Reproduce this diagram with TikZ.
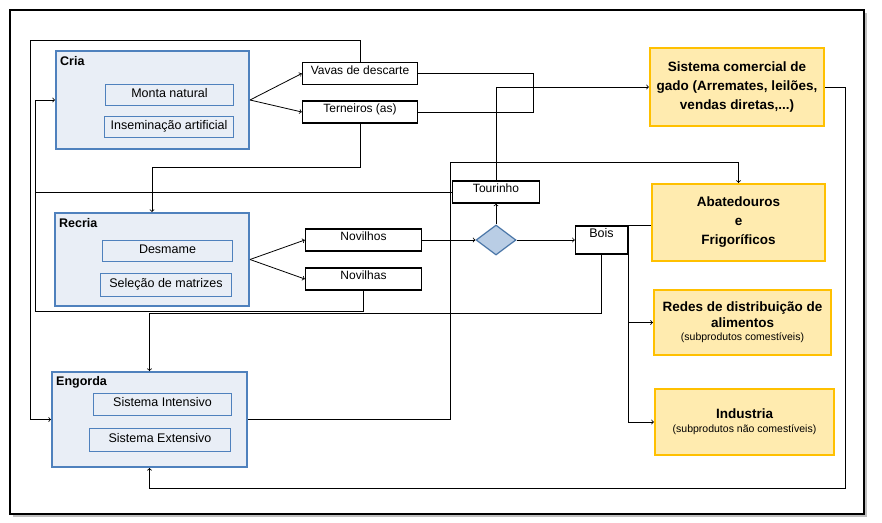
\documentclass[tikz,border=0pt]{standalone}
\usepackage{fontspec}
\setmainfont{Liberation Sans}
\usepackage{xcolor}
\usetikzlibrary{shapes.geometric}

\definecolor{etapaBorda}{HTML}{4F81BD}
\definecolor{etapaFundo}{HTML}{E9EEF6}
\definecolor{destBorda}{HTML}{FFC000}
\definecolor{destFundo}{HTML}{FFEBAF}
\definecolor{decisaoFundo}{HTML}{B9CDE5}
\definecolor{decisaoBorda}{HTML}{4A76A8}

\newcommand{\pequeno}{\fontsize{10.5}{12}\selectfont\mdseries}

\begin{document}
\begin{tikzpicture}[x=1pt,y=-1pt,
    etapa/.style={draw=etapaBorda,fill=etapaFundo,line width=2pt},
    titulo/.style={font=\fontsize{12.5}{14}\selectfont\bfseries,inner sep=0pt,anchor=north west},
    pratica/.style={draw=etapaBorda,fill=etapaFundo,line width=1.3pt,inner sep=0pt,
        font=\fontsize{12.5}{14}\selectfont,text height=9pt,text depth=5pt},
    produto/.style={draw,fill=white,line width=1.4pt,inner sep=0pt,minimum height=22pt,
        font=\fontsize{12}{14}\selectfont,text height=9pt,text depth=8pt},
    destino/.style={draw=destBorda,fill=destFundo,line width=2.2pt,inner sep=0pt,align=center,
        font=\fontsize{13.5}{19}\selectfont\bfseries},
    fluxo/.style={line width=0.8pt},
    seta/.style={fluxo,->}
]
    \useasboundingbox (0,0) rectangle (882,522);
    \fill[black!25] (13,13) rectangle (867,517);
    \draw[line width=2.5pt,fill=white] (10,10) rectangle (864,514);

    % etapas
    \node[etapa,minimum width=193pt,minimum height=98pt,
        label={[titulo,xshift=5pt,yshift=-6pt]north west:Cria}] (cria) at (152.5,100) {};
    \node[pratica,minimum width=128pt,minimum height=21pt] (monta) at (169.5,95) {Monta natural};
    \node[pratica,minimum width=129pt,minimum height=21pt] (insem) at (169,127) {Inseminação artificial};

    \node[etapa,minimum width=194pt,minimum height=93pt,
        label={[titulo,xshift=5pt,yshift=-6pt]north west:Recria}] (recria) at (152,259.5) {};
    \node[pratica,minimum width=130pt,minimum height=21pt] (desmame) at (167.5,251) {Desmame};
    \node[pratica,minimum width=131pt,minimum height=23pt] (selecao) at (166,285) {Seleção de matrizes};

    \node[etapa,minimum width=195pt,minimum height=95pt,
        label={[titulo,xshift=5pt,yshift=-5pt]north west:Engorda}] (engorda) at (149.5,419.5) {};
    \node[pratica,minimum width=138pt,minimum height=22pt] (intensivo) at (162.5,404.5) {Sistema Intensivo};
    \node[pratica,minimum width=141pt,minimum height=23pt] (extensivo) at (160,440) {Sistema Extensivo};

    % produtos
    \node[produto,minimum width=115pt] (vacas) at (360,73.5) {Vavas de descarte};
    \node[produto,minimum width=115pt] (terneiros) at (360,112) {Terneiros (as)};
    \node[produto,minimum width=116pt] (novilhos) at (363.5,240) {Novilhos};
    \node[produto,minimum width=116pt] (novilhas) at (363.5,279) {Novilhas};
    \node[produto,minimum width=87pt] (tourinho) at (496,192) {Tourinho};
    \node[produto,minimum width=52pt,minimum height=28pt,text depth=15pt,font=\fontsize{12.5}{14}\selectfont] (bois) at (601.5,240) {Bois};
    \node[diamond,draw=decisaoBorda,fill=decisaoFundo,line width=1.2pt,inner sep=0pt,
        minimum width=40pt,minimum height=30pt] (decisao) at (496,240) {};

    % destinos
    \node[destino,minimum width=174pt,minimum height=78pt] (comercial) at (737,87)
        {Sistema comercial de\\gado (Arremates, leilões,\\vendas diretas,...)};
    \node[destino,minimum width=173pt,minimum height=77pt] (abate) at (738.5,222.5)
        {Abatedouros\\e\\Frigoríficos};
    \node[destino,minimum width=177pt,minimum height=65pt,font=\fontsize{13.5}{16}\selectfont\bfseries] (redes) at (742.5,322.5)
        {Redes de distribuição de\\alimentos\\[-3pt]{\pequeno (subprodutos comestíveis)}};
    \node[destino,minimum width=179pt,minimum height=66pt,font=\fontsize{13.5}{15}\selectfont\bfseries] (industria) at (744.5,422)
        {Industria\\[-1pt]{\pequeno (subprodutos não comestíveis)}};

    \coordinate (voltaVacas) at (30,40);
    \coordinate (voltaCria) at (35,311);
    \coordinate (juncao) at (533,112);
    \coordinate (voltaEngorda) at (450,162);
    \coordinate (voltaComercial) at (845,488);

    % fluxos
    \draw[seta] (cria.east) -- (vacas.west);
    \draw[seta] (cria.east) -- (terneiros.west);
    \draw[seta] (recria.east) -- (novilhos.west);
    \draw[seta] (recria.east) -- (novilhas.west);
    \draw[seta] (vacas.north) |- (voltaVacas) |- (engorda.west);
    \draw[seta] (novilhas.south) |- (voltaCria) |- (cria.west);
    \draw[fluxo] (tourinho.west) -- (tourinho.west -| voltaCria);
    \draw[seta] (terneiros.south) -- ++(0,44) -| (recria.north);
    \draw[fluxo] (vacas.east) -| (juncao) -- (terneiros.east);
    \draw[seta] (tourinho.north) |- (comercial.west);
    \draw[seta] (engorda.east) -| (voltaEngorda) -| (abate.north);
    \draw[seta] (novilhos.east) -- (decisao.west);
    \draw[seta] (decisao.north) -- (tourinho.south);
    \draw[seta] (decisao.east) -- (bois.west);
    \draw[fluxo] (bois.north east) -- (bois.north east -| abate.west);
    \draw[seta] (bois.north east) |- (redes.west);
    \draw[seta] (bois.north east) |- (industria.west);
    \draw[seta] (bois.south) -- ++(0,59) -| (engorda.north);
    \draw[seta] (comercial.east) -| (voltaComercial) -| (engorda.south);
\end{tikzpicture}
\end{document}
